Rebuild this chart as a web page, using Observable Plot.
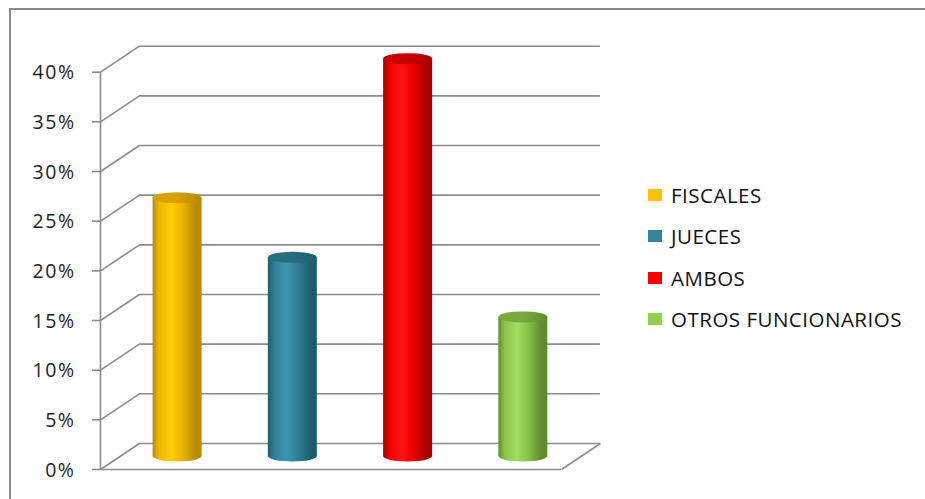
<!DOCTYPE html>
<html><head><meta charset="utf-8">
<script src="https://cdn.jsdelivr.net/npm/d3@7"></script>
<script src="https://cdn.jsdelivr.net/npm/@observablehq/plot@0.6"></script>
<style>
html,body{margin:0;padding:0;background:#fff;}
#wrap{position:relative;width:925px;height:499px;overflow:hidden;background:#fff;font-family:"Open Sans",sans-serif;}
#frame{position:absolute;left:9px;top:8px;width:940px;height:520px;border-left:2px solid #8a8a8a;border-top:2px solid #8a8a8a;}
#chart{position:absolute;left:0;top:0;}
#legend{position:absolute;left:648px;top:173.75px;}
.item{display:flex;align-items:center;height:41.5px;font-size:20.5px;letter-spacing:0.5px;color:#111;white-space:nowrap;}
.sw{width:14px;height:12px;margin-right:9px;flex:none;}
</style></head>
<body><div id="wrap"><div id="frame"></div><div id="chart"></div><div id="legend"></div></div>
<script>
const categories = ["FISCALES", "JUECES", "AMBOS", "OTROS FUNCIONARIOS"];
const values = [0.26, 0.20, 0.40, 0.14];
const yTicks = [0, 0.05, 0.10, 0.15, 0.20, 0.25, 0.30, 0.35, 0.40];
const tickLabels = ["0%", "5%", "10%", "15%", "20%", "25%", "30%", "35%", "40%"];
const colors = ["#FFC000", "#31859C", "#FF0000", "#92D050"];
// shading for each cylinder: [dark edge, mid, light], top cap
const shades = [
  ["#B88A00", "#EDB600", "#FFCD0A"],
  ["#1D5C6C", "#2E7F95", "#3D97B0"],
  ["#A80000", "#EE0000", "#FF1414"],
  ["#5E8C2E", "#88C348", "#A2DE62"]
];
const topShades = ["#D6A200", "#276D80", "#C80000", "#77AA3E"];

// 3-D box depth, in data units (x: category units, y: value units)
const DX = 0.338, DY = 0.0262;
const HALF = 0.2125;
const N = categories.length;
const bars = categories.map((c, i) => ({cat: c, v: values[i], i}));
const gridStroke = "#8c8c8c", gridW = 1.6;

const bx1 = d => d.i + 0.5 - HALF + DX / 2;
const bx2 = d => d.i + 0.5 + HALF + DX / 2;

const plot = Plot.plot({
  width: 925, height: 499,
  marginLeft: 100, marginRight: 364, marginTop: 71.7, marginBottom: 30,
  x: {domain: [0, N], axis: null},
  y: {domain: [0, 0.4], axis: null},
  color: {type: "identity"},
  style: {fontFamily: "Open Sans", fontSize: "19px", background: "transparent", overflow: "visible"},
  marks: [
    Plot.ruleY(yTicks, {y: t => t + DY, x1: DX, x2: N + DX, stroke: gridStroke, strokeWidth: gridW}),
    Plot.link(yTicks, {x1: 0, y1: t => t, x2: DX, y2: t => t + DY, stroke: gridStroke, strokeWidth: gridW}),
    Plot.ruleY([0], {x1: 0, x2: N, stroke: gridStroke, strokeWidth: gridW}),
    Plot.link([0], {x1: N, y1: 0, x2: N + DX, y2: DY, stroke: gridStroke, strokeWidth: gridW}),
    Plot.ruleX([0], {y1: 0, y2: 0.4, stroke: gridStroke, strokeWidth: gridW}),
    Plot.ruleY(yTicks, {x1: 0, x2: 0, insetLeft: -8, stroke: gridStroke, strokeWidth: gridW}),
    Plot.text(yTicks, {x: 0, y: t => t, text: (d, i) => tickLabels[i], textAnchor: "end", dx: -25, dy: 1, fill: "#1e1e1e", fontSize: 19.5}),
    Plot.rect(bars, {x1: bx1, x2: bx2, y1: DY / 2, y2: DY / 2, insetTop: -5.5, insetBottom: -5.5, rx: 24.5, ry: 5.5, fill: d => `url(#body${d.i})`}),
    Plot.rect(bars, {x1: bx1, x2: bx2, y1: DY / 2, y2: d => d.v + DY / 2, fill: d => `url(#body${d.i})`}),
    Plot.rect(bars, {x1: bx1, x2: bx2, y1: d => d.v + DY / 2, y2: d => d.v + DY / 2, insetTop: -5.5, insetBottom: -5.5, rx: 24.5, ry: 5.5, fill: d => `url(#top${d.i})`})
  ]
});

const svg = d3.select(plot);
svg.selectAll("text").style("letter-spacing", "1.5px");
const defs = svg.insert("defs", ":first-child");
shades.forEach((s, i) => {
  const g = defs.append("linearGradient").attr("id", "body" + i).attr("x1", 0).attr("x2", 1).attr("y1", 0).attr("y2", 0);
  [[0, s[0]], [0.12, s[1]], [0.38, s[2]], [0.6, s[1]], [0.88, s[0]], [1, s[0]]].forEach(([o, c]) =>
    g.append("stop").attr("offset", o).attr("stop-color", c));
  const t = defs.append("linearGradient").attr("id", "top" + i).attr("x1", 0).attr("x2", 1).attr("y1", 0).attr("y2", 0);
  [[0, topShades[i]], [0.5, topShades[i]], [1, s[0]]].forEach(([o, c]) =>
    t.append("stop").attr("offset", o).attr("stop-color", c));
});
document.getElementById("chart").appendChild(plot);

const legend = d3.select("#legend");
categories.forEach((c, i) => {
  const it = legend.append("div").attr("class", "item");
  it.append("div").attr("class", "sw").style("background", colors[i]);
  it.append("span").text(c);
});
</script>
</body></html>
